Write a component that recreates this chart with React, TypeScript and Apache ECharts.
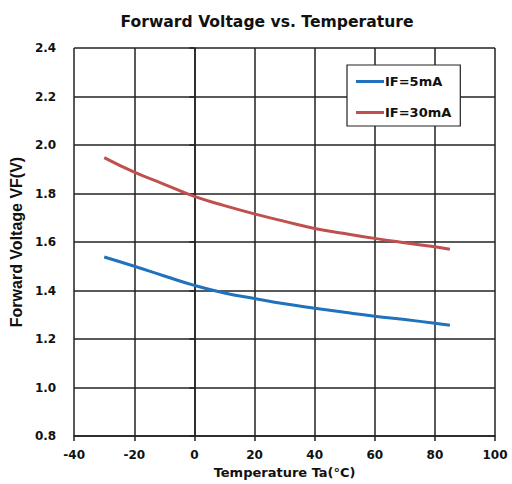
import React, { useEffect, useRef } from "react";
import * as echarts from "echarts";

const temps = [-30, -20, -10, 0, 10, 20, 30, 40, 50, 60, 70, 80, 85];
const vf5mA = [1.538, 1.5, 1.46, 1.421, 1.39, 1.367, 1.345, 1.327, 1.31, 1.294, 1.28, 1.265, 1.257];
const vf30mA = [1.948, 1.888, 1.838, 1.788, 1.75, 1.716, 1.685, 1.656, 1.635, 1.615, 1.597, 1.58, 1.57];
const seriesNames = ["IF=5mA", "IF=30mA"];

const wide = "'DejaVu Sans', Verdana, sans-serif";
const narrow = "'Liberation Sans', Arial, sans-serif";

export default function App() {
  const ref = useRef<HTMLDivElement>(null);
  useEffect(() => {
    if (!ref.current) return;
    const chart = echarts.init(ref.current, undefined, { renderer: "svg" });
    const axisStyle = { color: "#222", width: 1.5 };
    chart.setOption({
      animation: false,
      backgroundColor: "#fff",
      title: {
        text: "Forward Voltage vs. Temperature",
        left: 262,
        textAlign: "center",
        top: 9,
        textStyle: { fontFamily: wide, fontSize: 15.6, fontWeight: "bold", color: "#111" },
      },
      legend: {
        orient: "vertical",
        left: 347,
        top: 65,
        padding: [10, 9, 7, 9],
        itemGap: 18,
        itemWidth: 28,
        itemHeight: 3,
        backgroundColor: "#fff",
        borderColor: "#222",
        borderWidth: 1.2,
        textStyle: { fontFamily: wide, fontSize: 13, fontWeight: "bold", color: "#111", padding: [0, 0, 0, -4] },
        data: seriesNames.map((n) => ({ name: n, icon: "rect" })),
      },
      grid: { left: 70, right: 17, top: 48, bottom: 48, containLabel: false },
      xAxis: {
        type: "value",
        min: -40,
        max: 100,
        interval: 20,
        name: "Temperature Ta(°C)",
        nameLocation: "middle",
        nameGap: 30,
        nameTextStyle: { fontFamily: wide, fontSize: 13, fontWeight: "bold", color: "#111" },
        axisLine: { show: true, lineStyle: axisStyle },
        axisTick: { show: true, length: 5, lineStyle: axisStyle },
        axisLabel: { fontFamily: wide, fontSize: 12, fontWeight: "bold", color: "#111", margin: 13 },
        splitLine: { show: true, lineStyle: axisStyle },
      },
      yAxis: {
        type: "value",
        min: 0.8,
        max: 2.4,
        interval: 0.2,
        name: "Forward Voltage VF(V)",
        nameLocation: "middle",
        nameGap: 45,
        nameTextStyle: { fontFamily: narrow, fontSize: 16, fontWeight: "bold", color: "#111" },
        axisLine: { show: true, lineStyle: axisStyle },
        axisTick: { show: true, length: 5, lineStyle: axisStyle },
        axisLabel: {
          fontFamily: wide,
          fontSize: 12,
          fontWeight: "bold",
          color: "#111",
          margin: 18,
          formatter: (v: number) => v.toFixed(1),
        },
        splitLine: { show: true, lineStyle: axisStyle },
      },
      series: [
        {
          name: seriesNames[0],
          type: "line",
          smooth: true,
          symbol: "none",
          lineStyle: { width: 3, color: "#1f72bb" },
          itemStyle: { color: "#1f72bb" },
          data: temps.map((t, i) => [t, vf5mA[i]]),
        },
        {
          name: seriesNames[1],
          type: "line",
          smooth: true,
          symbol: "none",
          lineStyle: { width: 3, color: "#c0504d" },
          itemStyle: { color: "#c0504d" },
          data: temps.map((t, i) => [t, vf30mA[i]]),
        },
      ],
    });
    return () => chart.dispose();
  }, []);
  return (
    <div
      ref={ref}
      style={{ position: "fixed", left: 0, top: 0, width: 512, height: 484 }}
    />
  );
}
